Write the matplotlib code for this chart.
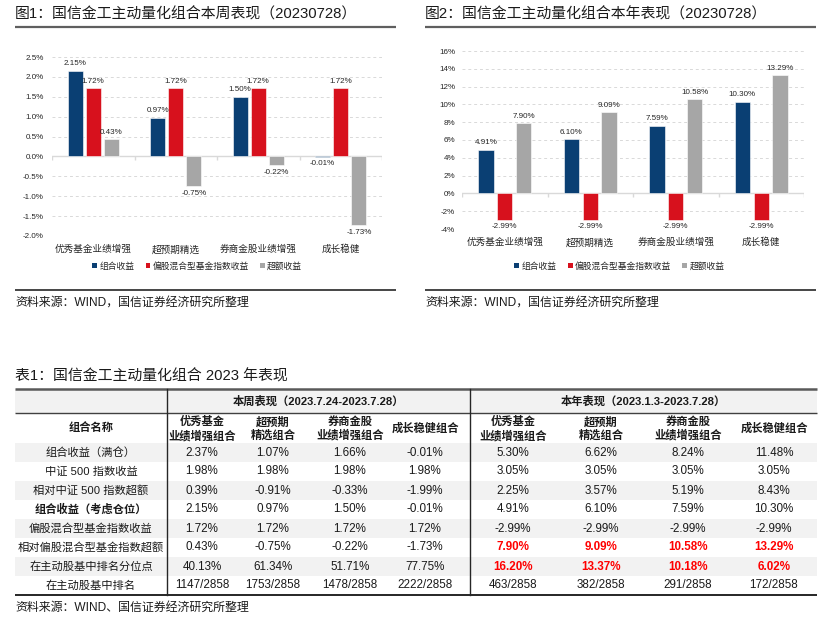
import matplotlib
matplotlib.use('Agg')
import matplotlib.pyplot as plt
from matplotlib.patches import Patch, Rectangle
import numpy as np

plt.rcParams['font.family'] = ['Liberation Sans', 'Noto Sans CJK SC', 'DejaVu Sans']

# ---------------- data ----------------
categories = ['优秀基金业绩增强', '超预期精选', '券商金股业绩增强', '成长稳健']
series_names = ['组合收益', '偏股混合型基金指数收益', '超额收益']
week_port = [2.15, 0.97, 1.50, -0.01]
week_index = [1.72, 1.72, 1.72, 1.72]
week_excess = [0.43, -0.75, -0.22, -1.73]
year_port = [4.91, 6.10, 7.59, 10.30]
year_index = [-2.99, -2.99, -2.99, -2.99]
year_excess = [7.90, 9.09, 10.58, 13.29]

table_row_names = ['组合收益（满仓）', '中证 500 指数收益', '相对中证 500 指数超额',
                   '组合收益（考虑仓位）', '偏股混合型基金指数收益', '相对偏股混合型基金指数超额',
                   '在主动股基中排名分位点', '在主动股基中排名']
table_col_names = ['优秀基金\n业绩增强组合', '超预期\n精选组合', '券商金股\n业绩增强组合', '成长稳健组合']
table_week = [
    ['2.37%', '1.07%', '1.66%', '-0.01%'],
    ['1.98%', '1.98%', '1.98%', '1.98%'],
    ['0.39%', '-0.91%', '-0.33%', '-1.99%'],
    ['2.15%', '0.97%', '1.50%', '-0.01%'],
    ['1.72%', '1.72%', '1.72%', '1.72%'],
    ['0.43%', '-0.75%', '-0.22%', '-1.73%'],
    ['40.13%', '61.34%', '51.71%', '77.75%'],
    ['1147/2858', '1753/2858', '1478/2858', '2222/2858'],
]
table_year = [
    ['5.30%', '6.62%', '8.24%', '11.48%'],
    ['3.05%', '3.05%', '3.05%', '3.05%'],
    ['2.25%', '3.57%', '5.19%', '8.43%'],
    ['4.91%', '6.10%', '7.59%', '10.30%'],
    ['-2.99%', '-2.99%', '-2.99%', '-2.99%'],
    ['7.90%', '9.09%', '10.58%', '13.29%'],
    ['16.20%', '13.37%', '10.18%', '6.02%'],
    ['463/2858', '382/2858', '291/2858', '172/2858'],
]
red_year_rows = [5, 6]
bold_name_rows = [3]

colors = ['#0a3f73', '#d7111d', '#a6a6a6']
txt = '#262626'

fig = plt.figure(figsize=(8.24, 6.26), dpi=100)
bg = fig.add_axes([0, 0, 1, 1])
bg.set_xlim(0, 824)
bg.set_ylim(626, 0)
bg.axis('off')


def chart(rect, series, ylim, step, fmt, legend_x, legend_y, ytick_pad):
    ax = fig.add_axes(rect)
    x = np.arange(len(categories))
    w, off = 0.18, 0.22
    for k, vals in enumerate(series):
        xs = x + (k - 1) * off
        ax.bar(xs, vals, w, color=colors[k], edgecolor='white', linewidth=0.4, zorder=3)
        for xi, v in zip(xs, vals):
            pos = v >= 0
            ax.annotate(f'{v:.2f}%', (xi, v), xytext=(0, 2.5 if pos else -2.5),
                        textcoords='offset points', ha='center',
                        va='bottom' if pos else 'top', fontsize=5.8, color=txt, zorder=4)
    ax.set_xlim(-0.5, len(categories) - 0.5)
    ax.set_ylim(*ylim)
    ticks = np.arange(ylim[0], ylim[1] + step / 2, step)
    ax.set_yticks(ticks)
    ax.set_yticklabels([fmt(t) for t in ticks], fontsize=5.8, color=txt)
    ax.yaxis.grid(True, linestyle=(0, (3, 3)), color='#d9d9d9', linewidth=0.7, zorder=0)
    ax.set_axisbelow(True)
    ax.axhline(0, color='#d9d9d9', linewidth=1.0, zorder=2)
    tl = (ylim[1] - ylim[0]) * 3.5 / 178
    ax.vlines(np.arange(-0.5, len(categories)), 0, -tl, color='#d9d9d9', linewidth=1.0, zorder=2)
    for s in ax.spines.values():
        s.set_visible(False)
    ax.set_xticks(x)
    ax.set_xticklabels(categories, fontsize=6.9, color=txt)
    ax.tick_params(axis='x', length=0, pad=6)
    ax.tick_params(axis='y', length=0, pad=ytick_pad)
    handles = [Patch(facecolor=c, edgecolor='none') for c in colors]
    ax.legend(handles, series_names, ncol=3, loc='center', bbox_to_anchor=(legend_x, legend_y),
              frameon=False, fontsize=6.3, handlelength=0.55, handleheight=0.55,
              handletextpad=0.25, columnspacing=1.3, labelcolor=txt)
    return ax


chart([52 / 824, 1 - 236 / 626, 330 / 824, 179 / 626],
      [week_port, week_index, week_excess], (-2.0, 2.5), 0.5,
      lambda t: f'{t:.1f}%', 0.44, -0.168, 6)
chart([462 / 824, 1 - 229 / 626, 342 / 824, 178 / 626],
      [year_port, year_index, year_excess], (-4, 16), 2,
      lambda t: f'{t:.0f}%', 0.46, -0.208, 5)

# chart titles / frames
for x0, x1, title in [(15, 396, '图1：国信金工主动量化组合本周表现（20230728）'),
                      (425, 816, '图2：国信金工主动量化组合本年表现（20230728）')]:
    bg.text(x0, 14, title, fontsize=10.7, va='center', ha='left', color='#1a1a1a')
    bg.plot([x0, x1], [26.5, 26.5], color='#5f5f5f', linewidth=1.6, solid_capstyle='butt')
    bg.plot([x0, x1], [289.5, 289.5], color='#262626', linewidth=1.2, solid_capstyle='butt')
    bg.text(x0, 304, '资料来源：WIND，国信证券经济研究所整理', fontsize=8.6, va='center',
            ha='left', color='#1a1a1a')

# ---------------- table ----------------
tx0, tx1 = 15, 817
vx = [167, 470]
row_top = 443
row_h = 19.0
name_cx = 91
week_cx = [202, 273, 350, 425]
year_cx = [513, 601, 688, 774]
fs = 8.1

bg.text(15, 376, '表1：国信金工主动量化组合 2023 年表现', fontsize=10.7, va='center', ha='left',
        color='#1a1a1a')
bg.add_patch(Rectangle((tx0, 389), tx1 - tx0, 24, facecolor='#f2f2f2', edgecolor='none'))
for i in range(len(table_row_names)):
    if i % 2 == 0:
        bg.add_patch(Rectangle((tx0, row_top + i * row_h), tx1 - tx0, row_h,
                               facecolor='#f2f2f2', edgecolor='none'))
bg.plot([tx0, tx1], [389, 389], color='#595959', linewidth=1.8, solid_capstyle='butt')
bg.plot([tx0, tx1], [413, 413], color='#404040', linewidth=1.0, solid_capstyle='butt')
bottom = row_top + len(table_row_names) * row_h
bg.plot([tx0, tx1], [bottom, bottom], color='#262626', linewidth=1.4, solid_capstyle='butt')
for v in vx:
    bg.plot([v, v], [389, bottom], color='#262626', linewidth=1.0)

bg.text((vx[0] + vx[1]) / 2, 401, '本周表现（2023.7.24-2023.7.28）', fontsize=fs,
        fontweight='bold', ha='center', va='center', color='#1a1a1a')
bg.text((vx[1] + tx1) / 2, 401, '本年表现（2023.1.3-2023.7.28）', fontsize=fs,
        fontweight='bold', ha='center', va='center', color='#1a1a1a')
bg.text(name_cx, 428, '组合名称', fontsize=fs, fontweight='bold', ha='center', va='center',
        color='#1a1a1a')
for cxs in (week_cx, year_cx):
    for cx, name in zip(cxs, table_col_names):
        bg.text(cx, 428.5, name, fontsize=fs, fontweight='bold', ha='center', va='center',
                color='#1a1a1a', linespacing=1.25)

for i, name in enumerate(table_row_names):
    cy = row_top + (i + 0.5) * row_h
    bg.text(name_cx, cy, name, fontsize=fs, ha='center', va='center', color='#1a1a1a',
            fontweight='bold' if i in bold_name_rows else 'normal')
    for cx, val in zip(week_cx, table_week[i]):
        bg.text(cx, cy, val, fontsize=fs + 0.3, ha='center', va='center', color='#1a1a1a')
    for cx, val in zip(year_cx, table_year[i]):
        red = i in red_year_rows
        bg.text(cx, cy, val, fontsize=fs + 0.3, ha='center', va='center',
                color='#ff0000' if red else '#1a1a1a', fontweight='bold' if red else 'normal')

bg.text(15, 608, '资料来源：WIND、国信证券经济研究所整理', fontsize=8.6, va='center', ha='left',
        color='#1a1a1a')

fig.savefig('out.png', dpi=100)
